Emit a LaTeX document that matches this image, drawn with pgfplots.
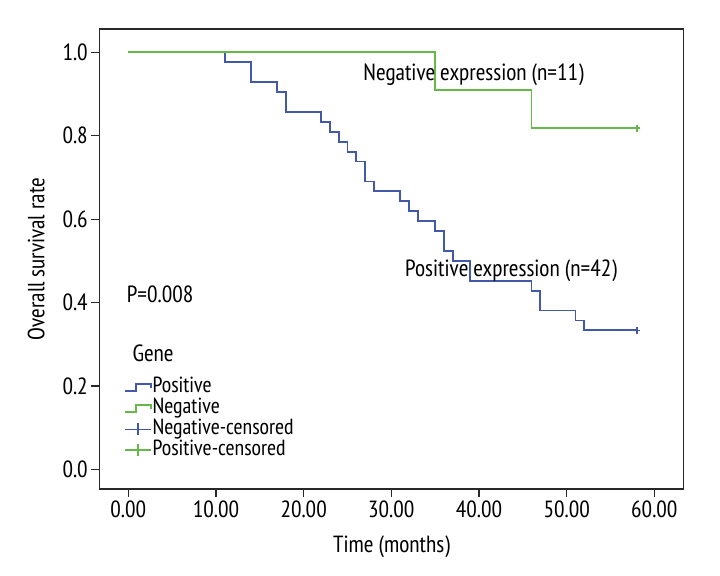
\documentclass[border=0pt]{standalone}
\usepackage{fontspec}
\setmainfont{PT Sans Narrow}
\usepackage{pgfplots}
\pgfplotsset{compat=1.18}
\definecolor{kmblue}{RGB}{66,88,168}
\definecolor{kmgreen}{RGB}{102,184,72}
\definecolor{axgray}{RGB}{40,40,40}
\begin{document}
\begin{tikzpicture}[font=\fontsize{23.5}{27}\selectfont]
\path[use as bounding box] (-99.3bp,-87bp) rectangle (620.7bp,489bp);
\begin{axis}[
  at={(0,0)}, anchor=south west,
  width=584.4bp, height=460bp, scale only axis,
  xmin=-3.31, xmax=63.35, ymin=-0.047, ymax=1.056,
  axis line style={line width=1.5bp, draw=axgray},
  xtick={0,10,20,30,40,50,60},
  ytick={0,0.2,0.4,0.6,0.8,1.0},
  tick align=outside, xtick pos=bottom, ytick pos=left,
  major tick length=8bp,
  tick style={line width=1.3bp, draw=axgray},
  x tick label style={/pgf/number format/.cd, fixed, fixed zerofill, precision=2, assume math mode=true, /tikz/.cd},
  y tick label style={/pgf/number format/.cd, fixed, fixed zerofill, precision=1, assume math mode=true, /tikz/.cd},
  xlabel={Time (months)}, ylabel={Overall survival rate},
  xlabel style={at={(axis description cs:0.5,-0.126)}, anchor=center},
  ylabel style={at={(axis description cs:-0.108,0.5)}, anchor=center},
  legend style={draw=none, fill=none, at={(axis cs:-0.49,0.221)}, anchor=north west,
    inner sep=0pt, outer sep=0pt, row sep=0pt,
    font=\fontsize{22}{24}\selectfont,
    nodes={inner sep=0.75bp, text height=14.8bp, text depth=4.6bp}},
  legend cell align=left,
]
\addplot[const plot, kmblue, line width=1.8bp,
  legend image code/.code={\draw[kmblue, line width=1.8bp] (0bp,-3.5bp) -- (11bp,-3.5bp) -- (11bp,3.5bp) -- (26bp,3.5bp) -- (26bp,0bp);}]
  coordinates {
  (0,1) (11,0.9762) (14,0.9286) (17,0.9048) (18,0.8571) (22,0.8333)
  (23,0.8095) (24,0.7857) (25,0.7619) (26,0.7381) (27,0.6905) (28,0.6667)
  (31,0.6429) (32,0.6190) (33,0.5952) (35,0.5714) (36,0.5238) (37,0.5000)
  (39,0.4524) (46,0.4286) (47,0.3810) (51,0.3571) (52,0.3333) (58,0.3333)
};
\addlegendentry{Positive}
\addplot[const plot, kmgreen, line width=1.8bp,
  legend image code/.code={\draw[kmgreen, line width=1.8bp] (0bp,-3.5bp) -- (11bp,-3.5bp) -- (11bp,3.5bp) -- (26bp,3.5bp) -- (26bp,0bp);}]
  coordinates {(0,1) (35,0.9091) (46,0.8182) (58,0.8182)};
\addlegendentry{Negative}
\addplot[only marks, mark=+, mark size=3.5bp, kmblue, mark options={line width=1.5bp},
  legend image code/.code={\draw[kmblue, line width=1.8bp] (0bp,0bp) -- (26bp,0bp); \draw[kmblue, line width=1.8bp] (13bp,-6bp) -- (13bp,6bp);}]
  coordinates {(58,0.3333)};
\addlegendentry{Negative-censored}
\addplot[only marks, mark=+, mark size=3.5bp, kmgreen, mark options={line width=1.5bp},
  legend image code/.code={\draw[kmgreen, line width=1.8bp] (0bp,0bp) -- (26bp,0bp); \draw[kmgreen, line width=1.8bp] (13bp,-6bp) -- (13bp,6bp);}]
  coordinates {(58,0.8182)};
\addlegendentry{Positive-censored}
\node[anchor=base west, inner sep=0pt] at (axis cs:26.8,0.9336) {Negative expression (n=11)};
\node[anchor=base west, inner sep=0pt] at (axis cs:31.56,0.4619) {Positive expression (n=42)};
\node[anchor=base west, inner sep=0pt] at (axis cs:-0.18,0.4005) {P=0.008};
\node[anchor=base west, inner sep=0pt] at (axis cs:0.456,0.258) {Gene};
\end{axis}
\end{tikzpicture}
\end{document}
